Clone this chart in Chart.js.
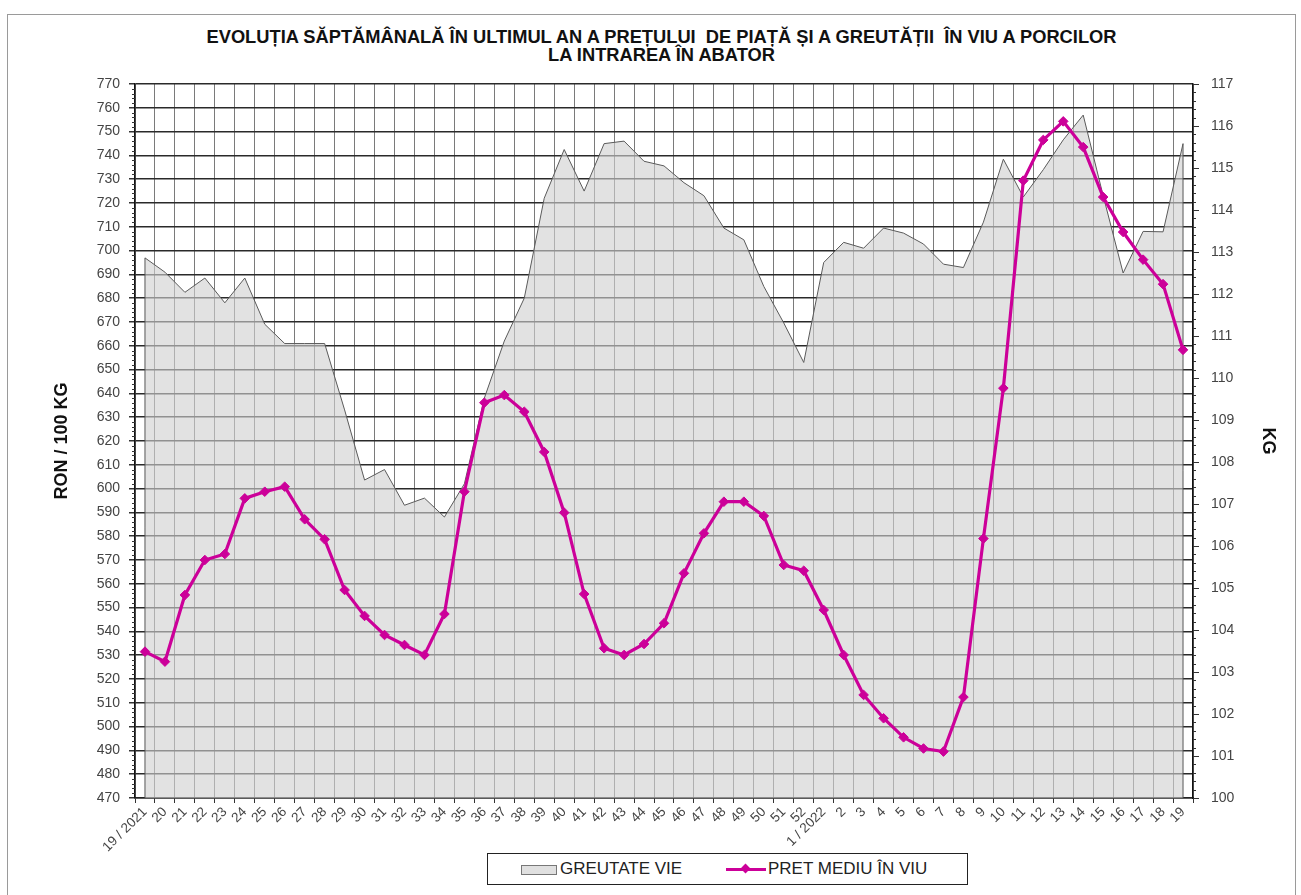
<!DOCTYPE html>
<html>
<head>
<meta charset="utf-8">
<script src="https://cdn.jsdelivr.net/npm/chart.js@4.4.1/dist/chart.umd.min.js"></script>
<style>
  html, body { margin: 0; padding: 0; background: #fff; }
  body { width: 1301px; height: 895px; position: relative; overflow: hidden; font-family: "Liberation Sans", Arial, sans-serif; }
  #frame { position: absolute; left: 7px; top: 14px; width: 1289px; height: 900px; border: 1.5px solid #9a9a9a; box-sizing: border-box; }
  #title { position: absolute; left: 11px; width: 1301px; top: 28px; text-align: center; font-weight: bold; font-size: 18.3px; line-height: 18px; color: #111; white-space: pre; }
  #chart { position: absolute; left: 0; top: 0; }
  #legend { position: absolute; left: 487px; top: 853px; width: 481px; height: 32px; border: 1.5px solid #222; box-sizing: border-box; background: #fff; }
  #legend .sw-area { position: absolute; left: 33px; top: 11px; width: 34px; height: 8px; border: 1px solid #777; background: #e0e0e0; }
  #legend .sw-line { position: absolute; left: 238px; top: 14px; width: 40px; height: 3px; background: #cc0099; }
  #legend .dia { position: absolute; left: 16px; top: -3.5px; width: 7px; height: 7px; background: #cc0099; transform: rotate(45deg); }
  #legend .lbl { position: absolute; top: 5px; font-size: 17px; line-height: 20px; color: #222; }
</style>
</head>
<body>
<div id="frame"></div>
<div id="title">EVOLUȚIA SĂPTĂMÂNALĂ ÎN ULTIMUL AN A PREȚULUI  DE PIAȚĂ ȘI A GREUTĂȚII  ÎN VIU A PORCILOR
LA INTRAREA ÎN ABATOR</div>
<canvas id="chart" width="1301" height="895"></canvas>
<div id="legend">
  <span class="sw-area"></span><span class="lbl" style="left:72px">GREUTATE VIE</span>
  <span class="sw-line"><span class="dia"></span></span><span class="lbl" style="left:280px">PRET MEDIU ÎN VIU</span>
</div>
<script>
// saptamani: 19/2021 ... 52, 1/2022 ... 19
const saptamani = [
  '19 / 2021', '20', '21', '22', '23', '24', '25', '26', '27', '28', '29', '30', '31', '32', '33', '34',
  '35', '36', '37', '38', '39', '40', '41', '42', '43', '44', '45', '46', '47', '48', '49', '50', '51', '52',
  '1 / 2022', '2', '3', '4', '5', '6', '7', '8', '9', '10', '11', '12', '13', '14', '15', '16', '17', '18', '19'
];

// pret mediu in viu, RON / 100 kg (axa stanga)
const pretMediu = [
  531.5, 527.3, 555.3, 570.0, 572.5, 595.9, 598.7, 600.8, 587.1, 578.7,
  557.4, 546.5, 538.5, 534.3, 530.1, 547.3, 598.7, 636.1, 639.3, 632.3,
  615.4, 589.9, 555.7, 532.9, 530.1, 534.7, 543.4, 564.4, 581.2, 594.5,
  594.5, 588.5, 567.9, 565.5, 549.0, 530.1, 513.3, 503.5, 495.5, 490.8,
  489.5, 512.4, 579.0, 642.2, 729.4, 746.5, 754.3, 743.5, 722.5, 707.8,
  696.2, 685.9, 658.3
];

// greutate vie, kg (axa dreapta)
const greutateVie = [
  112.86, 112.52, 112.04, 112.38, 111.79, 112.38, 111.28, 110.82, 110.82, 110.82,
  109.24, 107.57, 107.82, 106.97, 107.14, 106.69, 107.48, 109.52, 110.88, 111.90,
  114.28, 115.44, 114.45, 115.58, 115.64, 115.16, 115.05, 114.65, 114.34, 113.57,
  113.29, 112.18, 111.31, 110.37, 112.75, 113.23, 113.09, 113.57, 113.45, 113.19,
  112.71, 112.63, 113.71, 115.21, 114.31, 114.96, 115.67, 116.26, 114.34, 112.50,
  113.49, 113.48, 115.58
];

const FONT = '"Liberation Sans", Arial, sans-serif';

// vertical edges of the grey area, like the excel area chart
const areaEdges = {
  id: 'areaEdges',
  afterDatasetDraw(chart, args) {
    if (chart.data.datasets[args.index].label !== 'GREUTATE VIE') return;
    const pts = args.meta.data;
    const bottom = chart.chartArea.bottom;
    const ctx = chart.ctx;
    ctx.save();
    ctx.strokeStyle = '#555';
    ctx.lineWidth = 1;
    [pts[0], pts[pts.length - 1]].forEach(p => {
      ctx.beginPath();
      ctx.moveTo(p.x, p.y);
      ctx.lineTo(p.x, bottom);
      ctx.stroke();
    });
    ctx.restore();
  }
};

// small ticks on both value axes
const minorTicks = {
  id: 'minorTicks',
  afterDraw(chart) {
    const ctx = chart.ctx;
    const y = chart.scales.y;
    const y1 = chart.scales.y1;
    ctx.save();
    ctx.strokeStyle = '#333';
    ctx.lineWidth = 1;
    ctx.beginPath();
    for (let v = y.min; v <= y.max; v += 2) {
      if (v % 10 === 0) continue;
      const py = Math.round(y.getPixelForValue(v)) + 0.5;
      ctx.moveTo(y.right - 3, py);
      ctx.lineTo(y.right, py);
    }
    for (let k = 0; k <= 170; k += 2) {
      if (k % 10 === 0) continue;
      const py = Math.round(y1.getPixelForValue(100 + k / 10)) + 0.5;
      ctx.moveTo(y1.left, py);
      ctx.lineTo(y1.left + 3, py);
    }
    ctx.stroke();
    ctx.restore();
  }
};

new Chart(document.getElementById('chart'), {
  type: 'line',
  data: {
    labels: saptamani,
    datasets: [
      {
        label: 'PRET MEDIU ÎN VIU',
        data: pretMediu,
        yAxisID: 'y',
        borderColor: '#cc0099',
        backgroundColor: '#cc0099',
        borderWidth: 3.2,
        pointStyle: 'rectRot',
        pointRadius: 4.8,
        pointBorderWidth: 1,
        tension: 0,
        order: 0
      },
      {
        label: 'GREUTATE VIE',
        data: greutateVie,
        yAxisID: 'y1',
        fill: 'start',
        backgroundColor: 'rgba(208, 208, 208, 0.62)',
        borderColor: '#5a5a5a',
        borderWidth: 1,
        pointRadius: 0,
        tension: 0,
        order: 1
      }
    ]
  },
  options: {
    responsive: false,
    animation: false,
    layout: { padding: { top: 84, left: 0, right: 0, bottom: 0 } },
    plugins: {
      legend: { display: false },
      tooltip: { enabled: false }
    },
    scales: {
      x: {
        offset: true,
        grid: { color: '#7a7a7a', lineWidth: 1, offset: true, tickLength: 5, tickColor: '#333' },
        border: { color: '#222', width: 1.5 },
        ticks: { autoSkip: false, maxRotation: 45, minRotation: 45, padding: 1, color: '#444', font: { family: FONT, size: 13.5 } },
        afterFit: s => { s.height = 97; }
      },
      y: {
        position: 'left',
        min: 470,
        max: 770,
        ticks: {
          stepSize: 5,
          padding: 9,
          color: '#444',
          font: { family: FONT, size: 14 },
          callback: v => (v % 10 === 0 ? v : '')
        },
        grid: {
          color: c => (c.tick && c.tick.value % 10 === 0 ? '#2a2a2a' : '#a0a0a0'),
          lineWidth: c => (c.tick && c.tick.value % 10 === 0 ? 1.5 : 1),
          tickLength: 6,
          tickColor: c => (c.tick && c.tick.value % 10 === 0 ? '#333' : 'rgba(0,0,0,0)')
        },
        border: { color: '#111', width: 1.5 },
        title: { display: true, text: 'RON / 100 KG', color: '#111', font: { family: FONT, size: 18, weight: 'bold' }, padding: { top: 51, bottom: 0 } },
        afterFit: s => { s.width = 135; }
      },
      y1: {
        position: 'right',
        min: 100,
        max: 117,
        ticks: { stepSize: 1, padding: 12, color: '#444', font: { family: FONT, size: 14 } },
        grid: { drawOnChartArea: false, tickLength: 6, tickColor: '#333' },
        border: { color: '#111', width: 1.5 },
        title: { display: true, text: 'KG', color: '#111', font: { family: FONT, size: 18, weight: 'bold' }, padding: { top: 22, bottom: 0 } },
        afterFit: s => { s.width = 108; }
      }
    }
  },
  plugins: [areaEdges, minorTicks]
});
</script>
</body>
</html>
